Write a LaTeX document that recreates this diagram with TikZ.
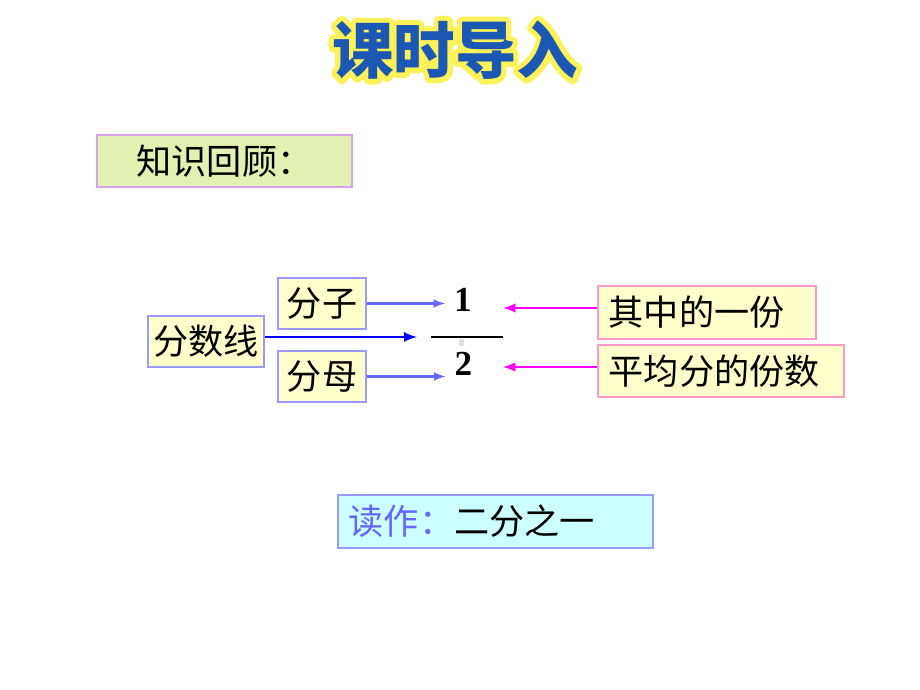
\documentclass[tikz,border=0pt]{standalone}
\usepackage{fontspec}
\setmainfont{Liberation Serif}
\newfontfamily\cjk{Noto Sans CJK SC}
\definecolor{paleyellow}{HTML}{FFFFCC}
\definecolor{palegreen}{HTML}{E2F0B2}
\definecolor{palecyan}{HTML}{CCFFFF}
\definecolor{boxblue}{HTML}{9999FF}
\definecolor{boxpink}{HTML}{FF99CC}
\definecolor{boxviolet}{HTML}{D6A2EC}
\definecolor{arrowblue}{HTML}{6666FF}
\definecolor{barblue}{HTML}{0000FF}
\definecolor{pinkarrow}{HTML}{FF00FF}
\definecolor{titleblue}{HTML}{1B58B4}
\definecolor{titlehalo}{HTML}{FFF25A}
\newcommand{\halotext}[1]{\special{pdf:literal direct 1 j 1 J 6 w 1 0.95 0.35 RG 1 Tr}#1\special{pdf:literal direct 0 Tr}}
\begin{document}
\begin{tikzpicture}[x=0.02cm,y=-0.02cm,
    box/.style={draw=boxblue,fill=paleyellow,line width=0.9pt,minimum height=1.02cm,
        inner sep=0pt,font=\cjk\fontsize{20pt}{24pt}\selectfont},
    leftbox/.style={box,anchor=west,inner xsep=0.22cm,align=left},
    digit/.style={font=\bfseries\fontsize{20pt}{24pt}\selectfont,inner sep=0.18cm},
    titletext/.style={font=\cjk\bfseries\fontsize{35pt}{40pt}\selectfont}
]
    \fill[white] (0,0) rectangle (920,690);
    \useasboundingbox (0,0) rectangle (920,690);
    \node[titletext,text=titlehalo] (halo) at (455,50) {\halotext{课时导入}};
    \node[titletext,text=titleblue] (title) at (455,50) {课时导入};
    \node[box,draw=boxviolet,fill=palegreen,minimum width=5.10cm,minimum height=1.04cm] (review) at (224.5,161) {知识回顾：};
    \node[box,minimum width=1.76cm] (numer) at (322,303.5) {分子};
    \node[box,minimum width=2.32cm] (bar) at (206,341.5) {分数线};
    \node[box,minimum width=1.76cm] (denom) at (322,376.5) {分母};
    \node[digit] (one) at (463,300) {1};
    \node[digit] (two) at (463.5,363.5) {2};
    \coordinate (fracL) at (431,337);
    \coordinate (fracR) at (503,337);
    \draw[line width=1.6pt] (fracL) -- (fracR);
    \fill[gray!25] (459,339) rectangle (464,346);
    \node[leftbox,draw=boxpink,text width=3.92cm,minimum height=1.06cm] (part) at (597,312.5) {其中的一份};
    \node[leftbox,draw=boxpink,text width=4.48cm,minimum height=1.04cm] (total) at (597,371) {平均分的份数};
    \node[leftbox,fill=palecyan,text width=5.86cm,minimum height=1.06cm] (read) at (337,521.5) {\textcolor{arrowblue}{读作：}二分之一};
    \coordinate (tipA) at (503,308);
    \coordinate (tipB) at (503,367);
    \draw[arrowblue,line width=1.2pt,-latex] (numer.east) -- (numer.east -| one.west);
    \draw[arrowblue,line width=1.2pt,-latex] (denom.east) -- (denom.east -| two.west);
    \draw[barblue,line width=1.5pt,-latex] (bar.east |- fracL) -- ([xshift=-0.28cm]fracL);
    \draw[pinkarrow,line width=1.4pt,-latex] (part.west |- tipA) -- (tipA);
    \draw[pinkarrow,line width=1.4pt,-latex] (total.west |- tipB) -- (tipB);
\end{tikzpicture}
\end{document}
